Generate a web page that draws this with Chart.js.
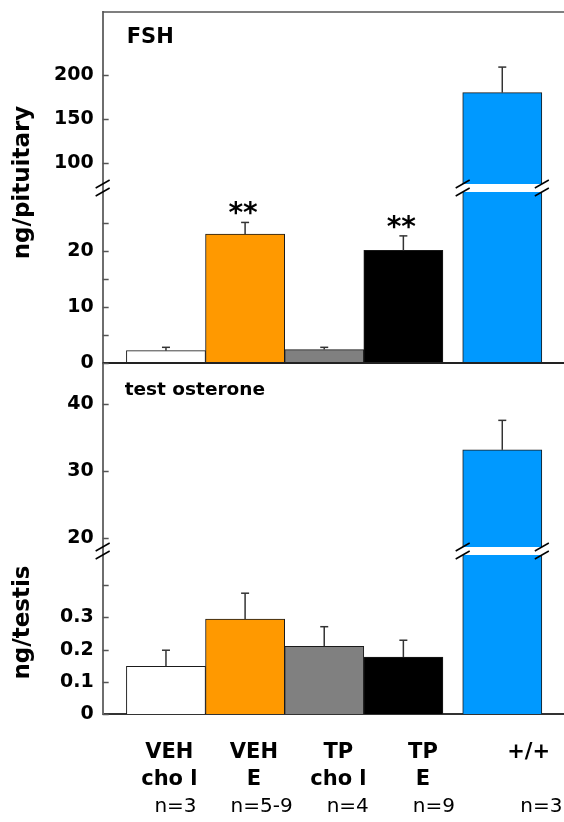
<!DOCTYPE html>
<html><head><meta charset="utf-8">
<script src="https://cdn.jsdelivr.net/npm/chart.js@4.4.1/dist/chart.umd.min.js"></script>
<style>html,body{margin:0;padding:0;background:#fff}</style>
</head><body>
<canvas id="c" width="564" height="822"></canvas>
<script>
// ---- data ----
const groupLine1 = ['VEH', 'VEH', 'TP', 'TP', '+/+'];
const groupLine2 = ['cho l', 'E', 'cho l', 'E', ''];
const sampleSizes = ['n=3', 'n=5-9', 'n=4', 'n=9', 'n=3'];
const fshMean = [2.2, 23.0, 2.4, 20.1, 180];
const fshSem = [0.6, 2.1, 0.4, 2.6, 29];
const fshSignif = ['', '**', '', '**', ''];
const tMean = [0.148, 0.295, 0.21, 0.177, 33.2];
const tSem = [0.05, 0.08, 0.061, 0.052, 4.4];
const fshHighTicks = [100, 150, 200];
const fshHighLabels = ['100', '150', '200'];
const fshLowTicks = [0, 5, 10, 15, 20, 25];
const fshLowLabels = ['0', '', '10', '', '20', ''];
const tHighTicks = [20, 30, 40];
const tHighLabels = ['20', '30', '40'];
const tLowTicks = [0, 0.1, 0.2, 0.3, 0.4];
const tLowLabels = ['0', '0.1', '0.2', '0.3', ''];

// ---- styling / layout options ----
const barColors = ['#ffffff', '#ff9900', '#808080', '#000000', '#0099ff'];
const FSH_LO = {min: 0, max: 31.25};
const FSH_HI = {min: 71.6, max: 271.6};
const T_LO = {min: 0, max: 0.506};
const T_HI = {min: 18.1, max: 46.16};
const controlGap = 0.25;
const groupX = groupLine1.map((_, i) => i + 1 + (i === groupLine1.length - 1 ? controlGap : 0));

Chart.defaults.font.family = "'DejaVu Sans', sans-serif";
Chart.defaults.color = '#000';

function lowPart(vals, max) { return vals.map((v, i) => ({x: groupX[i], y: Math.min(v, max)})); }
function highPart(vals, min) { return vals.map((v, i) => ({x: groupX[i], y: v > min ? v : null})); }

const barOpts = {
  backgroundColor: barColors, borderColor: '#1a1a1a', borderWidth: 1,
  grouped: false, categoryPercentage: 1, barPercentage: 1
};

function setTicks(values) { return scale => { scale.ticks = values.map(v => ({value: v})); }; }
function yAxis(range, weight, ticks, labels) {
  return {
    type: 'linear', position: 'left', stack: 'left', stackWeight: weight,
    min: range.min, max: range.max,
    afterBuildTicks: setTicks(ticks),
    ticks: {autoSkip: false, padding: 0, callback: (v, i) => labels[i],
            font: {size: 19, weight: 'bold', lineHeight: 1.2}},
    grid: {display: false, drawTicks: true, tickLength: 9},
    border: {display: true, color: '#6e6e6e', width: 2}
  };
}

function hline(ctx, x1, y1, x2, y2, color, w) {
  ctx.beginPath(); ctx.moveTo(x1, y1); ctx.lineTo(x2, y2);
  ctx.strokeStyle = color; ctx.lineWidth = w; ctx.stroke();
}
function breakMark(ctx, cx, cy) {
  for (const o of [-4, 4]) hline(ctx, cx - 7, cy + o + 4, cx + 7, cy + o - 4, '#000', 1.5);
}

const decor = {
  id: 'decor',
  afterDatasetsDraw(chart) {
    const {ctx, chartArea: ca, scales} = chart;
    const {yFhi, yFlo, yThi, yTlo} = scales;
    ctx.save();
    // frame lines
    hline(ctx, ca.left, ca.top, ca.right, ca.top, '#555', 1.5);
    hline(ctx, ca.left, yFlo.bottom, ca.right, yFlo.bottom, '#222', 2);
    // inward tick marks
    for (const s of [yFhi, yFlo, yThi, yTlo]) {
      for (const t of s.ticks) {
        const py = Math.round(s.getPixelForValue(t.value)) + 0.5;
        hline(ctx, ca.left, py, ca.left + 6, py, '#555', 1.5);
      }
    }
    const panels = [
      {mean: fshMean, sem: fshSem, sig: fshSignif, lo: yFlo, hi: yFhi, loIdx: 0, hiIdx: 1},
      {mean: tMean, sem: tSem, sig: null, lo: yTlo, hi: yThi, loIdx: 2, hiIdx: 3}
    ];
    for (const p of panels) {
      const boundary = p.lo.top;
      p.mean.forEach((m, i) => {
        const broken = m > p.lo.max;
        const s = broken ? p.hi : p.lo;
        const el = chart.getDatasetMeta(broken ? p.hiIdx : p.loIdx).data[i];
        const px = el.x;
        const yErr = s.getPixelForValue(m + p.sem[i]);
        const yTop = s.getPixelForValue(m);
        hline(ctx, px, yTop, px, yErr, '#333', 1.5);
        hline(ctx, px - 4, yErr, px + 4, yErr, '#333', 1.5);
        if (p.sig && p.sig[i]) {
          ctx.font = "bold 28px 'DejaVu Sans'";
          ctx.fillStyle = '#000'; ctx.textAlign = 'center'; ctx.textBaseline = 'alphabetic';
          ctx.fillText(p.sig[i], px - 2, yErr);
        }
        if (broken) {
          const half = el.width / 2;
          ctx.fillStyle = '#fff';
          ctx.fillRect(px - half - 1.5, boundary - 4, el.width + 3, 8);
          breakMark(ctx, px - half, boundary);
          breakMark(ctx, px + half, boundary);
        }
      });
      breakMark(ctx, ca.left, boundary);
    }
    // panel titles
    ctx.fillStyle = '#000'; ctx.textAlign = 'left'; ctx.textBaseline = 'alphabetic';
    ctx.font = "bold 21px 'DejaVu Sans'";
    ctx.fillText('FSH', ca.left + 24, yFhi.top + 31);
    ctx.font = "bold 18.5px 'DejaVu Sans'";
    ctx.fillText('test osterone', ca.left + 22, yThi.top + 32);
    // y titles
    ctx.font = "bold 23px 'DejaVu Sans'";
    ctx.textAlign = 'center'; ctx.textBaseline = 'middle';
    const titles = [
      ['ng/pituitary', (yFhi.top + yFlo.bottom) / 2 - 5],
      ['ng/testis', (yTlo.top + yTlo.bottom) / 2 - 10]
    ];
    for (const [txt, cy] of titles) {
      ctx.save(); ctx.translate(23, cy); ctx.rotate(-Math.PI / 2);
      ctx.fillText(txt, 0, 0); ctx.restore();
    }
    ctx.restore();
  }
};

new Chart(document.getElementById('c'), {
  type: 'bar',
  data: {
    datasets: [
      Object.assign({label: 'FSH', data: lowPart(fshMean, FSH_LO.max), yAxisID: 'yFlo'}, barOpts),
      Object.assign({label: 'FSH high', data: highPart(fshMean, FSH_HI.min), yAxisID: 'yFhi', base: FSH_HI.min}, barOpts),
      Object.assign({label: 'testosterone', data: lowPart(tMean, T_LO.max), yAxisID: 'yTlo'}, barOpts),
      Object.assign({label: 'testosterone high', data: highPart(tMean, T_HI.min), yAxisID: 'yThi', base: T_HI.min}, barOpts)
    ]
  },
  options: {
    responsive: false, animation: false, devicePixelRatio: 1,
    layout: {padding: {top: 12, left: 54, right: 0, bottom: 3}},
    plugins: {legend: {display: false}, tooltip: {enabled: false}},
    scales: {
      x: {type: 'linear', display: false, offset: false, min: 0.2, max: 6.03,
          afterBuildTicks: setTicks(groupX)},
      xl: {
        type: 'linear', position: 'bottom', offset: false, min: 0.211, max: 5.669,
        afterBuildTicks: setTicks(groupX),
        ticks: {autoSkip: false, maxRotation: 0, padding: 0,
                callback: (v, i) => [groupLine1[i], groupLine2[i]],
                font: {size: 21, weight: 'bold', lineHeight: 1.2857}},
        grid: {display: false, drawTicks: true, tickLength: 25.5},
        border: {display: true, color: '#333', width: 2}
      },
      xn: {
        type: 'linear', position: 'bottom', offset: false, min: 0.154, max: 5.512,
        afterBuildTicks: setTicks(groupX),
        ticks: {autoSkip: false, maxRotation: 0, padding: 0,
                callback: (v, i) => sampleSizes[i],
                font: {size: 20, weight: 'normal', lineHeight: 1.2}},
        grid: {display: false, drawTicks: true, tickLength: 1.5},
        border: {display: false}
      },
      yTlo: yAxis(T_LO, 163, tLowTicks, tLowLabels),
      yThi: yAxis(T_HI, 188, tHighTicks, tHighLabels),
      yFlo: yAxis(FSH_LO, 175, fshLowTicks, fshLowLabels),
      yFhi: yAxis(FSH_HI, 176, fshHighTicks, fshHighLabels)
    }
  },
  plugins: [decor]
});
</script>
</body></html>
